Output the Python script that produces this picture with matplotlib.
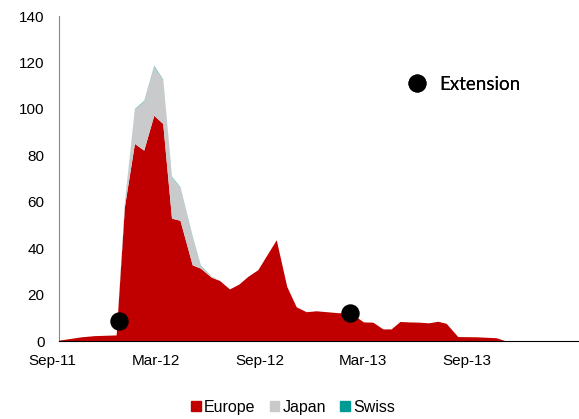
import matplotlib.pyplot as plt
from matplotlib.patches import Patch
from matplotlib.lines import Line2D
from matplotlib.transforms import ScaledTranslation

# x positions in months since Sep-2011
months = [0.35, 1.71, 2.46, 3.72, 4.20, 4.78, 5.32, 5.90, 6.42, 6.93,
          7.42, 8.13, 8.60, 9.23, 9.71, 10.29, 10.83, 11.35, 11.93, 13.00,
          13.61, 14.16, 14.74, 15.32, 16.55, 17.06, 17.73, 18.06, 18.60, 19.18,
          19.66, 20.17, 20.72, 21.30, 21.83, 22.37, 22.85, 23.52, 24.59, 25.75,
          26.23, 30.52]
europe = [0.1, 1.6, 2.1, 2.4, 57.7, 84.9, 82.0, 97.0, 93.5, 52.7,
          51.8, 32.6, 31.2, 27.3, 25.9, 22.2, 24.3, 27.6, 30.5, 43.4,
          23.3, 14.5, 12.4, 12.8, 12.0, 11.9, 9.7, 8.0, 7.9, 5.0,
          5.0, 8.2, 8.0, 7.9, 7.6, 8.3, 7.4, 1.7, 1.6, 1.2,
          0.0, 0.0]
japan = [0.0, 0.0, 0.0, 0.0, 2.0, 14.8, 21.2, 21.2, 18.9, 17.8,
         14.2, 12.2, 1.1, 0.5, 0.0, 0.0, 0.0, 0.0, 0.0, 0.0,
         0.0, 0.0, 0.0, 0.0, 0.0, 0.0, 0.0, 0.0, 0.0, 0.0,
         0.0, 0.0, 0.0, 0.0, 0.0, 0.0, 0.0, 0.0, 0.0, 0.0,
         0.0, 0.0]
swiss = [0.0, 0.0, 0.0, 0.0, 0.2, 0.2, 0.2, 0.3, 0.2, 0.2,
         0.2, 0.2, 0.2, 0.0, 0.0, 0.0, 0.0, 0.0, 0.0, 0.0,
         0.0, 0.0, 0.0, 0.0, 0.0, 0.0, 0.0, 0.0, 0.0, 0.0,
         0.0, 0.0, 0.0, 0.0, 0.0, 0.0, 0.0, 0.0, 0.0, 0.0,
         0.0, 0.0]

ext_months = [3.87, 17.25]
ext_values = [8.7, 11.9]

tick_pos = [0.35, 6, 12, 18, 24]
tick_labels = ["Sep-11", "Mar-12", "Sep-12", "Mar-13", "Sep-13"]

RED = "#C00000"
GREY = "#C9CACB"
TEAL = "#009A94"

plt.rcParams["font.family"] = ["Liberation Sans", "DejaVu Sans"]

fig = plt.figure(figsize=(5.79, 4.19), dpi=100)
ax = fig.add_axes([58.5 / 579, 1 - 341 / 419, 1 - 58.5 / 579, 325 / 419])

ax.stackplot(months, europe, japan, swiss, colors=[RED, GREY, TEAL], linewidth=0)
ax.scatter(ext_months, ext_values, s=150, color="black", zorder=5)

ax.set_xlim(0.35, 30.52)
ax.set_ylim(0, 140)
ax.set_yticks(range(0, 141, 20))
ax.set_xticks(tick_pos)
ax.set_xticklabels(tick_labels)
ax.tick_params(axis="both", length=0, labelsize=11, colors="#000000")
ax.tick_params(axis="y", pad=10)
ax.tick_params(axis="x", pad=9)
# first label sits a little left of the axis start
lab = ax.get_xticklabels()[0]
lab.set_transform(lab.get_transform() + ScaledTranslation(-6 / 100, 0, fig.dpi_scale_trans))

for s in ("top", "right"):
    ax.spines[s].set_visible(False)
ax.spines["left"].set_color("#888888")
ax.spines["bottom"].set_color("black")

ext_handle = Line2D([], [], marker="o", linestyle="none", color="black", markersize=12)
leg1 = ax.legend([ext_handle], ["Extension"], loc="center left",
                 bbox_to_anchor=(389 / 579, 1 - 84 / 419), bbox_transform=fig.transFigure,
                 frameon=False, handletextpad=0.2, borderpad=0,
                 prop={"family": "Lato", "size": 13.5})
ax.add_artist(leg1)

handles = [Patch(color=RED), Patch(color=GREY), Patch(color=TEAL)]
fig.legend(handles, ["Europe", "Japan", "Swiss"], loc="center", ncol=3,
           bbox_to_anchor=(293 / 579, 1 - 407 / 419), frameon=False,
           handlelength=0.6, handleheight=0.6, handletextpad=0.2,
           columnspacing=0.9, fontsize=11.5, borderpad=0)

fig.savefig("out.png", dpi=100)
